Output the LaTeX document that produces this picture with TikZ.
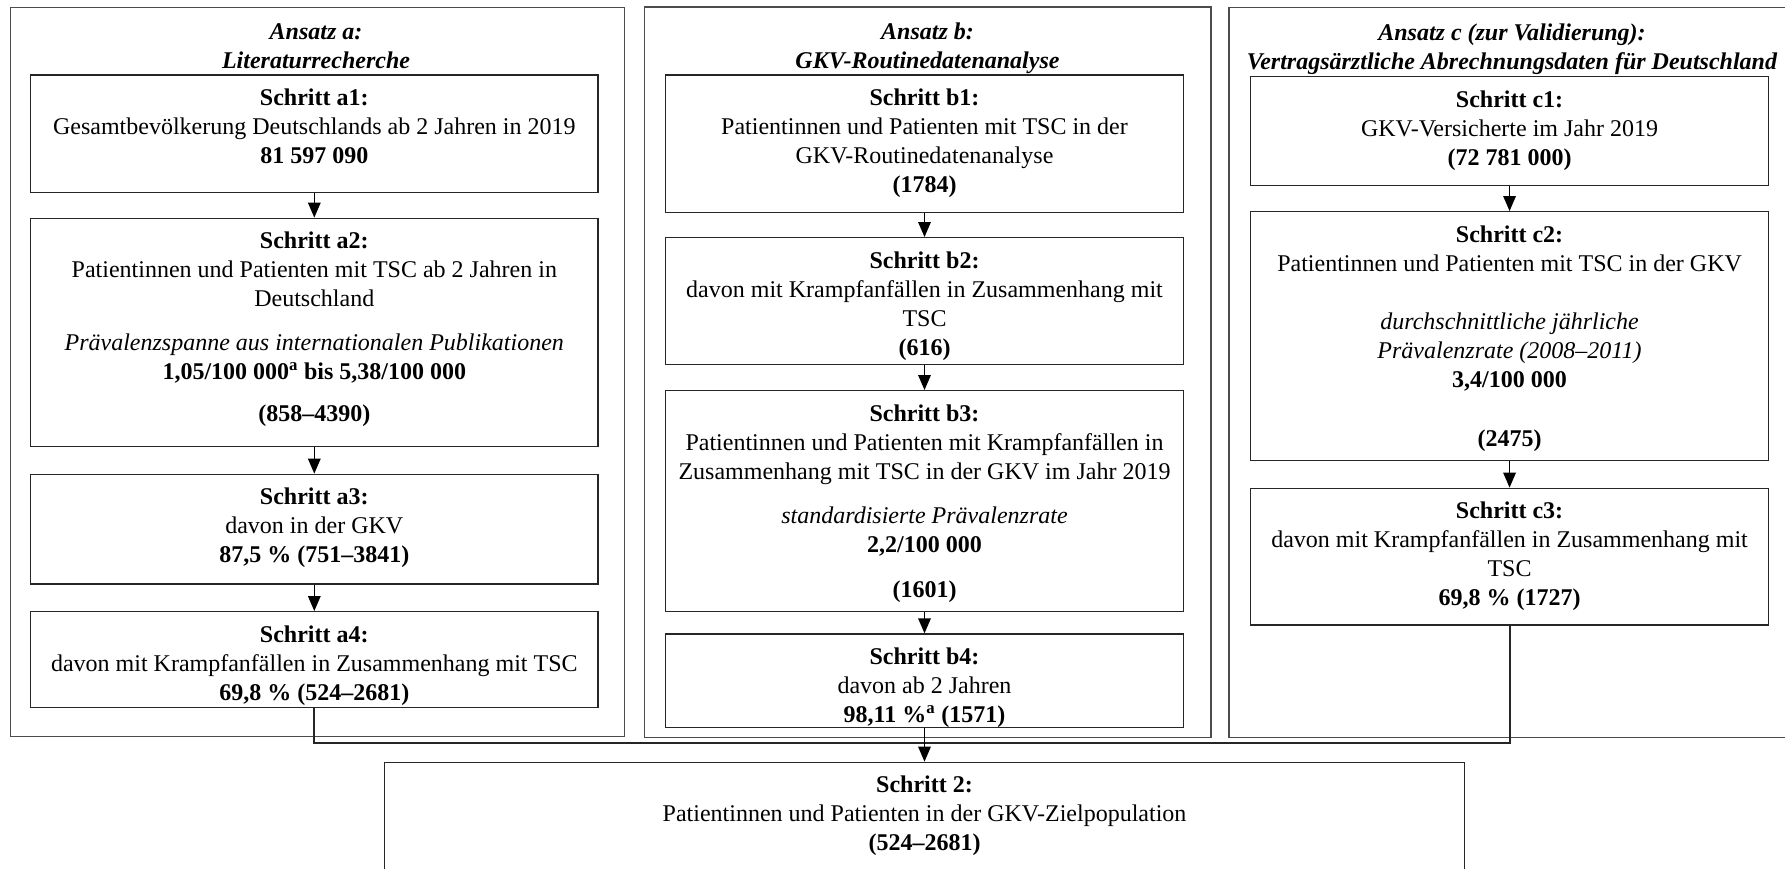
\documentclass[tikz,border=0pt]{standalone}
\usepackage{fontspec}
\setmainfont{Liberation Serif}
\usetikzlibrary{arrows.meta,fit}
\begin{document}
\begin{tikzpicture}[x=1bp,y=-1bp,
  frame/.style={draw=black!70, line width=1.3bp, inner sep=0pt},
  box/.style={draw=black!85, line width=1.3bp, inner sep=0pt},
  txt/.style={anchor=north, align=center, inner sep=0pt, yshift=-10.7bp,
    font=\fontsize{24bp}{29bp}\selectfont},
  title/.style={anchor=north, align=center, inner sep=0pt,
    font=\fontsize{24bp}{29bp}\selectfont\bfseries\itshape},
  arr/.style={draw=black, line width=1.5bp, -{Triangle[length=15bp,width=12.5bp]}},
  conn/.style={draw=black!85, line width=2bp}
]
\useasboundingbox (0,0) rectangle (1785,869);
\clip (0,0) rectangle (1785,869);

% frames
\node[frame, fit={(10.2,7.3) (624.5,736.7)}] (fa) {};
\node[frame, fit={(644.5,7) (1211,737.5)}] (fb) {};
\node[frame, fit={(1229,7.3) (1800,737.7)}] (fc) {};
\node[title] (ta) at (316,19) {\strut Ansatz a:\\Literaturrecherche};
\node[title] (tb) at (927.5,19) {\strut Ansatz b:\\GKV-Routinedatenanalyse};
\node[title] (tc) at (1512,20) {\strut Ansatz c (zur Validierung):\\Vertragsärztliche Abrechnungsdaten für Deutschland};

% column a
\node[box, fit={(30.6,75) (598,192.7)}] (a1) {};
\node[txt] (a1t) at (a1.north) {\strut\textbf{Schritt a1:}\\Gesamtbevölkerung Deutschlands ab 2 Jahren in 2019\\\textbf{81 597 090}};
\node[box, fit={(30.6,218.3) (598,446.7)}] (a2) {};
\node[txt] (a2t) at (a2.north) {\strut\textbf{Schritt a2:}\\Patientinnen und Patienten mit TSC ab 2 Jahren in\\Deutschland\\[15bp]\textit{Prävalenzspanne aus internationalen Publikationen}\\\textbf{1,05/100 000\textsuperscript{a} bis 5,38/100 000}\\[13bp]\textbf{(858–4390)}};
\node[box, fit={(30.6,474.3) (598,584)}] (a3) {};
\node[txt] (a3t) at (a3.north) {\strut\textbf{Schritt a3:}\\davon in der GKV\\\textbf{87,5 \% (751–3841)}};
\node[box, fit={(30.6,611.7) (598,707.3)}] (a4) {};
\node[txt] (a4t) at (a4.north) {\strut\textbf{Schritt a4:}\\davon mit Krampfanfällen in Zusammenhang mit TSC\\\textbf{69,8 \% (524–2681)}};

% column b
\node[box, fit={(665.2,75) (1183.8,212.7)}] (b1) {};
\node[txt] (b1t) at (b1.north) {\strut\textbf{Schritt b1:}\\Patientinnen und Patienten mit TSC in der\\GKV-Routinedatenanalyse\\\textbf{(1784)}};
\node[box, fit={(665.2,237.7) (1183.8,364.3)}] (b2) {};
\node[txt] (b2t) at (b2.north) {\strut\textbf{Schritt b2:}\\davon mit Krampfanfällen in Zusammenhang mit\\TSC\\\textbf{(616)}};
\node[box, fit={(665.2,390.7) (1183.8,611.7)}] (b3) {};
\node[txt] (b3t) at (b3.north) {\strut\textbf{Schritt b3:}\\Patientinnen und Patienten mit Krampfanfällen in\\Zusammenhang mit TSC in der GKV im Jahr 2019\\[15bp]\textit{standardisierte Prävalenzrate}\\\textbf{2,2/100 000}\\[16bp]\textbf{(1601)}};
\node[box, fit={(665.2,634) (1183.8,727.7)}] (b4) {};
\node[txt] (b4t) at (b4.north) {\strut\textbf{Schritt b4:}\\davon ab 2 Jahren\\\textbf{98,11 \%\textsuperscript{a} (1571)}};

% column c
\node[box, fit={(1250.6,76.7) (1768.5,185.7)}] (c1) {};
\node[txt] (c1t) at (c1.north) {\strut\textbf{Schritt c1:}\\GKV-Versicherte im Jahr 2019\\\textbf{(72 781 000)}};
\node[box, fit={(1250.6,211.7) (1768.5,460.7)}] (c2) {};
\node[txt] (c2t) at (c2.north) {\strut\textbf{Schritt c2:}\\Patientinnen und Patienten mit TSC in der GKV\\[29bp]\textit{durchschnittliche jährliche}\\\textit{Prävalenzrate (2008–2011)}\\\textbf{3,4/100 000}\\[30bp]\textbf{(2475)}};
\node[box, fit={(1250.6,488.3) (1768.5,625)}] (c3) {};
\node[txt] (c3t) at (c3.north) {\strut\textbf{Schritt c3:}\\davon mit Krampfanfällen in Zusammenhang mit\\TSC\\\textbf{69,8 \% (1727)}};

% step 2
\node[box, fit={(384.5,762.3) (1464.5,890)}] (s2) {};
\node[txt] (s2t) at (s2.north) {\strut\textbf{Schritt 2:}\\Patientinnen und Patienten in der GKV-Zielpopulation\\\textbf{(524–2681)}};

% connectors
\foreach \u/\v in {a1/a2,a2/a3,a3/a4,b1/b2,b2/b3,b3/b4,c1/c2,c2/c3}
  \draw[arr] (\u.south) -- (\v.north);
\coordinate (jy) at (0,743.3);
\coordinate (jn) at (b4.south |- jy);
\draw[conn] (a4.south) |- (jn) -| (c3.south);
\draw[arr] (b4.south) -- (s2.north);
\end{tikzpicture}
\end{document}
